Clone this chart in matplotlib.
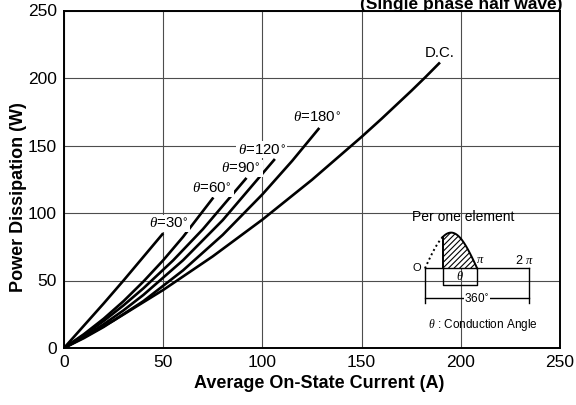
import numpy as np
import matplotlib
matplotlib.use("Agg")
import matplotlib.pyplot as plt

plt.rcParams['font.family'] = ['Liberation Sans', 'DejaVu Sans']
plt.rcParams['mathtext.fontset'] = 'custom'
plt.rcParams['mathtext.it'] = 'Liberation Serif:italic'
plt.rcParams['hatch.linewidth'] = 0.8

# Average on-state current (A) vs. power dissipation (W), one list per conduction angle
i_30 = [0, 10, 20, 30, 40, 50]
p_30 = [0, 16.5, 33, 50, 67.5, 85]

i_60 = [0, 10, 20, 30, 40, 50, 60, 75.3]
p_60 = [0, 10.2, 21.7, 34.7, 49.2, 65, 82.3, 111.5]

i_90 = [0, 10, 20, 30, 40, 55, 70, 92]
p_90 = [0, 9.5, 20, 31.6, 44.2, 64.9, 88, 126]

i_120 = [0, 10, 20, 30, 40, 60, 80, 106.3]
p_120 = [0, 8.3, 17.6, 27.9, 39.3, 65, 94.7, 140]

i_180 = [0, 10, 20, 40, 60, 80, 100, 115, 128.7]
p_180 = [0, 7.3, 15.6, 34.7, 57.5, 83.8, 113.8, 138.6, 163]

i_dc = [0, 10, 25, 50, 75, 100, 125, 150, 160, 175, 182, 189.5]
p_dc = [0, 7.9, 20.3, 43, 67.9, 95.1, 124.6, 156.4, 169.7, 190.4, 200.4, 211.5]

curve_labels = [r'$\theta$=30$^{\circ}$', r'$\theta$=60$^{\circ}$', r'$\theta$=90$^{\circ}$',
                r'$\theta$=120$^{\circ}$', r'$\theta$=180$^{\circ}$', 'D.C.']
label_xy = [(52.9, 92.3), (74.8, 118.2), (89.3, 133.0), (99.6, 147.0), (127.8, 170.8), (189.5, 218.6)]

x_ticks = [0, 50, 100, 150, 200, 250]
y_ticks = [0, 50, 100, 150, 200, 250]

fig = plt.figure(figsize=(5.76, 4.05), dpi=100)
ax = fig.add_axes([64 / 576, (405 - 348) / 405, 496 / 576, 337.5 / 405])

series = [(i_30, p_30), (i_60, p_60), (i_90, p_90), (i_120, p_120), (i_180, p_180), (i_dc, p_dc)]
for xs, ys in series:
    ax.plot(xs, ys, color='black', lw=1.9, solid_capstyle='butt',
            solid_joinstyle='round', zorder=3)

for txt, (lx, ly) in zip(curve_labels, label_xy):
    ax.text(lx, ly, txt, ha='center', va='center', fontsize=10.8, zorder=4,
            bbox=dict(boxstyle='square,pad=0.1', fc='white', ec='none'))

ax.set_xlim(0, 250)
ax.set_ylim(0, 250)
ax.set_xticks(x_ticks)
ax.set_yticks(y_ticks)
ax.tick_params(length=0, labelsize=12.5, pad=5)
ax.tick_params(axis='x', pad=5)
ax.grid(True, color='0.3', lw=0.8)
ax.set_axisbelow(True)
for s in ax.spines.values():
    s.set_linewidth(1.4)

ax.set_xlabel('Average On-State Current (A)', fontsize=13, fontweight='bold')
ax.set_ylabel('Power Dissipation (W)', fontsize=13, fontweight='bold')
ax.xaxis.set_label_coords(0.514, -0.08)
ax.yaxis.set_label_coords(-0.0746, 0.446)

fig.text(563 / 576, (405 - 8.5) / 405, '(Single phase half wave)', ha='right', va='baseline',
         fontsize=12.5, fontweight='bold')

# Waveform sketch: x in radians, y in units of peak amplitude
ins = fig.add_axes([410 / 576, (405 - 342) / 405, 135 / 576, 137 / 405])
ins.set_zorder(5)
ins.set_facecolor('white')
ins.set_xlim(-0.904, 7.23)
ins.set_ylim(-2.064, 1.773)
ins.axis('off')
ins.patch.set_visible(True)

start = 1.06
ph_off = np.linspace(0, start, 30)
ph_on = np.linspace(start, np.pi, 60)
ins.plot(ph_off, np.sin(ph_off), color='black', lw=1.4, ls=(0, (1, 1.5)))
ins.plot(ph_on, np.sin(ph_on), color='black', lw=1.4)
ins.plot([start, start], [0, np.sin(start)], color='black', lw=1.4)
ins.fill_between(ph_on, 0, np.sin(ph_on), facecolor='white', edgecolor='black',
                 hatch='//////', lw=0)
ins.plot([0, 2 * np.pi], [0, 0], color='black', lw=1.0)
ins.plot([0, 0], [0, -0.97], color='black', lw=1.0)
ins.plot([2 * np.pi, 2 * np.pi], [0, -0.97], color='black', lw=1.0)
ins.plot([start, start, np.pi, np.pi], [0, -0.467, -0.467, 0], color='black', lw=1.0)
ins.plot([0, 2 * np.pi], [-0.84, -0.84], color='black', lw=1.0)
ins.text(np.pi, -0.84, '360$^{\\circ}$', ha='center', va='center', fontsize=8.5,
         bbox=dict(boxstyle='square,pad=0.05', fc='white', ec='none'))
ins.text((start + np.pi) / 2, -0.24, r'$\theta$', ha='center', va='center', fontsize=9)
ins.text(3.3, 0.22, r'$\pi$', ha='center', va='center', fontsize=9)
ins.text(6.0, 0.22, r'2 $\pi$', ha='center', va='center', fontsize=9)
ins.text(-0.5, 0.0, 'O', ha='center', va='center', fontsize=8)
ins.text(3.5, -1.59, r'$\theta$ : Conduction Angle', ha='center', va='center', fontsize=8.5)
ins.text(2.3, 1.445, 'Per one element', ha='center', va='center', fontsize=10)

fig.savefig('out.png', dpi=100)
